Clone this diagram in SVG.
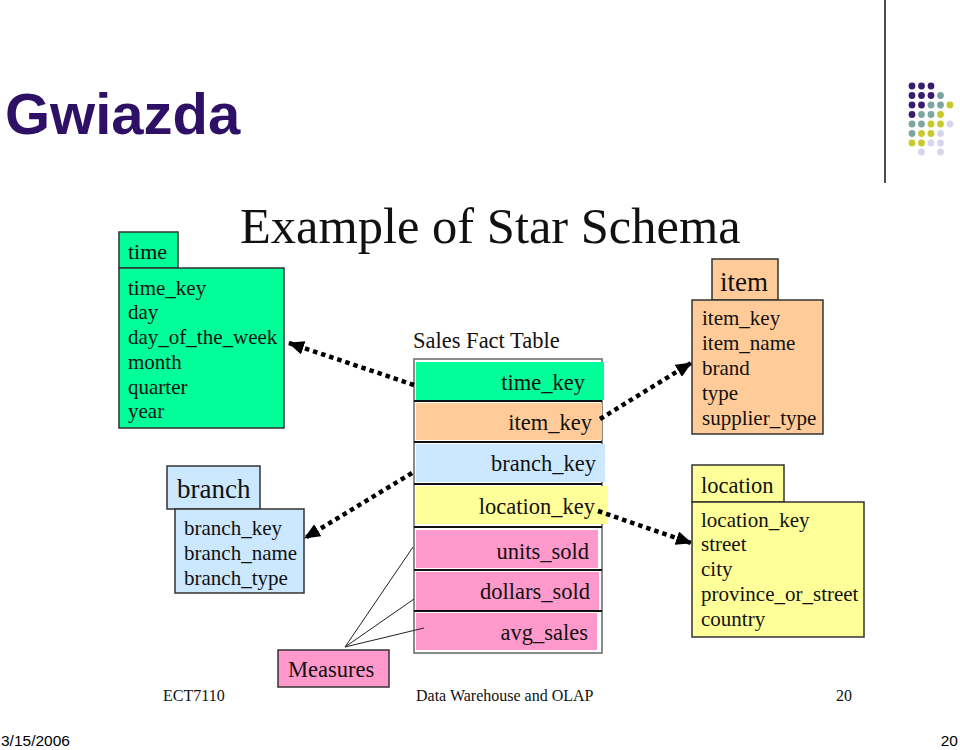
<svg xmlns="http://www.w3.org/2000/svg" width="960" height="750" viewBox="0 0 960 750">
<defs>
<style>
.tt{font-family:"Liberation Serif","Times New Roman",serif;fill:#111;}
.b{font-size:21px;}
.f{font-size:22.5px;text-anchor:end;}
.box{stroke:#333;stroke-width:1.5;}
.sep{stroke:#111;stroke-width:2;}
.dot{fill:none;stroke:#000;stroke-width:4.5;stroke-dasharray:4.5 4;}
.thin{fill:none;stroke:#222;stroke-width:1;}
.p{fill:#3A1C6C;}.t{fill:#7BA6A1;}.y{fill:#C9C92C;}.l{fill:#D5D5EC;}
</style>
<marker id="ah" markerUnits="userSpaceOnUse" markerWidth="16" markerHeight="14" refX="15" refY="7" orient="auto">
<path d="M0,0 L16,7 L0,14 Z" fill="#000"/>
</marker>
</defs>
<rect width="960" height="750" fill="#fff"/>
<text x="5" y="134" font-family="Liberation Sans,Arial,sans-serif" font-weight="bold" font-size="58" fill="#2E1066">Gwiazda</text>
<line x1="885" y1="0" x2="885" y2="183" stroke="#111" stroke-width="1.5"/>
<g id="dots">
<circle class="p" cx="912" cy="86" r="3.4"/><circle class="p" cx="921.5" cy="86" r="3.4"/><circle class="p" cx="931" cy="86" r="3.4"/>
<circle class="p" cx="912" cy="95.5" r="3.4"/><circle class="p" cx="921.5" cy="95.5" r="3.4"/><circle class="p" cx="931" cy="95.5" r="3.4"/><circle class="t" cx="940.5" cy="95.5" r="3.4"/>
<circle class="p" cx="912" cy="105" r="3.4"/><circle class="p" cx="921.5" cy="105" r="3.4"/><circle class="t" cx="931" cy="105" r="3.4"/><circle class="t" cx="940.5" cy="105" r="3.4"/><circle class="y" cx="950" cy="105" r="3.4"/>
<circle class="p" cx="912" cy="114.5" r="3.4"/><circle class="t" cx="921.5" cy="114.5" r="3.4"/><circle class="t" cx="931" cy="114.5" r="3.4"/><circle class="y" cx="940.5" cy="114.5" r="3.4"/>
<circle class="t" cx="912" cy="124" r="3.4"/><circle class="t" cx="921.5" cy="124" r="3.4"/><circle class="y" cx="931" cy="124" r="3.4"/><circle class="y" cx="940.5" cy="124" r="3.4"/><circle class="l" cx="950" cy="124" r="3.4"/>
<circle class="t" cx="912" cy="133.5" r="3.4"/><circle class="y" cx="921.5" cy="133.5" r="3.4"/><circle class="y" cx="931" cy="133.5" r="3.4"/><circle class="l" cx="940.5" cy="133.5" r="3.4"/>
<circle class="y" cx="912" cy="143" r="3.4"/><circle class="y" cx="921.5" cy="143" r="3.4"/><circle class="l" cx="931" cy="143" r="3.4"/><circle class="l" cx="940.5" cy="143" r="3.4"/>
<circle class="l" cx="921.5" cy="152" r="3.4"/><circle class="l" cx="940.5" cy="152" r="3.4"/>
</g>
<text class="tt" x="240" y="243" font-size="50.5">Example of Star Schema</text>

<g id="time">
<rect class="box" x="119" y="232" width="59" height="36" fill="#00FF99"/>
<text class="tt" x="128" y="259" font-size="22">time</text>
<rect class="box" x="119" y="268" width="165" height="160" fill="#00FF99"/>
<text class="tt b" x="128" y="295">time_key</text>
<text class="tt b" x="128" y="319">day</text>
<text class="tt b" x="128" y="344">day_of_the_week</text>
<text class="tt b" x="128" y="369">month</text>
<text class="tt b" x="128" y="394">quarter</text>
<text class="tt b" x="128" y="418">year</text>
</g>

<g id="item">
<rect class="box" x="712" y="259" width="66" height="41" fill="#FFCC99"/>
<text class="tt" x="720" y="291" font-size="27">item</text>
<rect class="box" x="692" y="300" width="131" height="134" fill="#FFCC99"/>
<text class="tt b" x="702" y="325">item_key</text>
<text class="tt b" x="702" y="350">item_name</text>
<text class="tt b" x="702" y="375">brand</text>
<text class="tt b" x="702" y="400">type</text>
<text class="tt b" x="702" y="425">supplier_type</text>
</g>

<g id="branch">
<rect class="box" x="167" y="466" width="93" height="43" fill="#CCE8FF"/>
<text class="tt" x="177" y="498" font-size="27">branch</text>
<rect class="box" x="175" y="509" width="129" height="84" fill="#CCE8FF"/>
<text class="tt b" x="184" y="535">branch_key</text>
<text class="tt b" x="184" y="560">branch_name</text>
<text class="tt b" x="184" y="585">branch_type</text>
</g>

<g id="location">
<rect class="box" x="692" y="465" width="92" height="37" fill="#FFFF99"/>
<text class="tt" x="701" y="493" font-size="22.5">location</text>
<rect class="box" x="692" y="502" width="172" height="135" fill="#FFFF99"/>
<text class="tt b" x="701" y="527">location_key</text>
<text class="tt b" x="701" y="551">street</text>
<text class="tt b" x="701" y="576">city</text>
<text class="tt b" x="701" y="601">province_or_street</text>
<text class="tt b" x="701" y="626">country</text>
</g>

<g id="fact">
<text class="tt" x="413" y="348" font-size="22.5">Sales Fact Table</text>
<rect x="414" y="359" width="188" height="294" fill="#fff" stroke="#666" stroke-width="1.5"/>
<rect x="416" y="362" width="188" height="38" fill="#00FF99"/>
<rect x="416" y="403" width="186" height="37" fill="#FFCC99"/>
<rect x="416" y="444" width="189" height="38" fill="#CCE8FF"/>
<rect x="416" y="486" width="192" height="38" fill="#FFFF99"/>
<rect x="416" y="530" width="182" height="38" fill="#FF99CC"/>
<rect x="416" y="572" width="183" height="38" fill="#FF99CC"/>
<rect x="416" y="613" width="181" height="37" fill="#FF99CC"/>
<line class="sep" x1="414" y1="401" x2="602" y2="401"/>
<line class="sep" x1="414" y1="442" x2="602" y2="442"/>
<line class="sep" x1="414" y1="484" x2="602" y2="484"/>
<line class="sep" x1="414" y1="527" x2="602" y2="527"/>
<line class="sep" x1="414" y1="570" x2="602" y2="570"/>
<line class="sep" x1="414" y1="611" x2="602" y2="611"/>
<text class="tt f" x="585" y="390">time_key</text>
<text class="tt f" x="592" y="430">item_key</text>
<text class="tt f" x="596" y="471">branch_key</text>
<text class="tt f" x="595" y="514">location_key</text>
<text class="tt f" x="589" y="559">units_sold</text>
<text class="tt f" x="590" y="599">dollars_sold</text>
<text class="tt f" x="588" y="640">avg_sales</text>
</g>

<g id="measures">
<rect class="box" x="278" y="650" width="111" height="37" fill="#FF99CC"/>
<text class="tt" x="288" y="677" font-size="22.5">Measures</text>
</g>

<g id="connectors">
<path class="dot" d="M414,385 L289,343" marker-end="url(#ah)"/>
<path class="dot" d="M600,419 L691,363" marker-end="url(#ah)"/>
<path class="dot" d="M412,473 L305,538" marker-end="url(#ah)"/>
<path class="dot" d="M598,511 L691,543" marker-end="url(#ah)"/>
<path class="thin" d="M345,647 L413,547 M345,647 L414,599 M345,647 L424,628"/>
</g>

<g id="footer">
<text class="tt" x="163" y="701" font-size="16">ECT7110</text>
<text class="tt" x="416" y="701" font-size="16">Data Warehouse and OLAP</text>
<text class="tt" x="836" y="701" font-size="16">20</text>
<text x="1" y="746" font-family="Liberation Sans,Arial,sans-serif" font-size="15.5" fill="#000">3/15/2006</text>
<text x="958" y="746" text-anchor="end" font-family="Liberation Sans,Arial,sans-serif" font-size="15.5" fill="#000">20</text>
</g>
</svg>
